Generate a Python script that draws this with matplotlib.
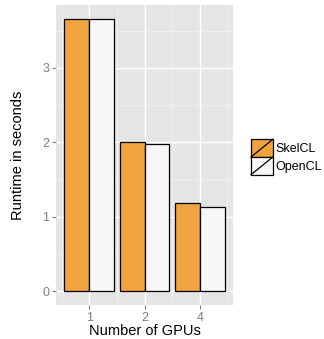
import numpy as np
import matplotlib
matplotlib.use("Agg")
from matplotlib import pyplot as plt
from matplotlib.patches import Rectangle
from matplotlib.lines import Line2D
from matplotlib.legend_handler import HandlerBase

plt.rcParams['font.family'] = ['Liberation Sans', 'DejaVu Sans']

gpus = ["1", "2", "4"]
skelcl = [3.66, 2.00, 1.19]
opencl = [3.66, 1.975, 1.13]
series = ["SkelCL", "OpenCL"]
colors = ["#F0A33F", "#F7F7F7"]


class KeyHandler(HandlerBase):
    # ggplot-style key: filled square with a diagonal stroke
    def create_artists(self, legend, orig, xd, yd, w, h, fontsize, trans):
        r = Rectangle((-xd, -yd), w, h, facecolor=orig.get_facecolor(),
                      edgecolor="black", linewidth=0.9, transform=trans)
        l = Line2D([-xd, -xd + w], [-yd, -yd + h], color="black",
                   linewidth=0.9, transform=trans)
        return [r, l]


fig = plt.figure(figsize=(3.24, 3.39), dpi=100)
ax = fig.add_axes([56 / 324, 34 / 339, 177 / 324, 300 / 339])
ax.set_facecolor("#E5E5E5")

x = np.arange(1, len(gpus) + 1)
bw = 0.45
bars = []
for i, (vals, c) in enumerate(zip([skelcl, opencl], colors)):
    b = ax.bar(x - bw / 2 + i * bw, vals, width=bw, color=c,
               edgecolor="black", linewidth=0.9, label=series[i], zorder=3)
    bars.append(b)

ax.set_xlim(0.4, 3.6)
top = max(skelcl + opencl)
ax.set_ylim(-0.05 * top, top * 1.05)

ax.set_xticks(x)
ax.set_xticklabels(gpus)
ax.set_yticks([0, 1, 2, 3])
ax.set_xticks([0.5, 1.5, 2.5, 3.5], minor=True)
ax.set_yticks([0.5, 1.5, 2.5, 3.5], minor=True)
ax.grid(True, which="major", color="white", linewidth=1.0, zorder=0)
ax.grid(True, which="minor", color="#F2F2F2", linewidth=0.5, zorder=0)
ax.set_axisbelow(True)
for s in ax.spines.values():
    s.set_visible(False)
ax.tick_params(which="major", length=3, color="#7F7F7F", labelcolor="#7F7F7F",
               labelsize=9, width=0.8, pad=2)
ax.tick_params(which="minor", length=0)

ax.set_xlabel("Number of GPUs", fontsize=10.5, labelpad=0)
ax.set_ylabel("Runtime in seconds", fontsize=10.5, labelpad=12)

handles = [b.patches[0] for b in bars]
leg = fig.legend(handles, series, loc="center left",
                 bbox_to_anchor=(251 / 324, 1 - 157 / 339), frameon=False,
                 handler_map={Rectangle: KeyHandler()}, fontsize=9,
                 handlelength=1.75, handleheight=1.8, labelspacing=0,
                 handletextpad=0.2, borderpad=0.0, borderaxespad=0)

fig.savefig("out.png", dpi=100)
